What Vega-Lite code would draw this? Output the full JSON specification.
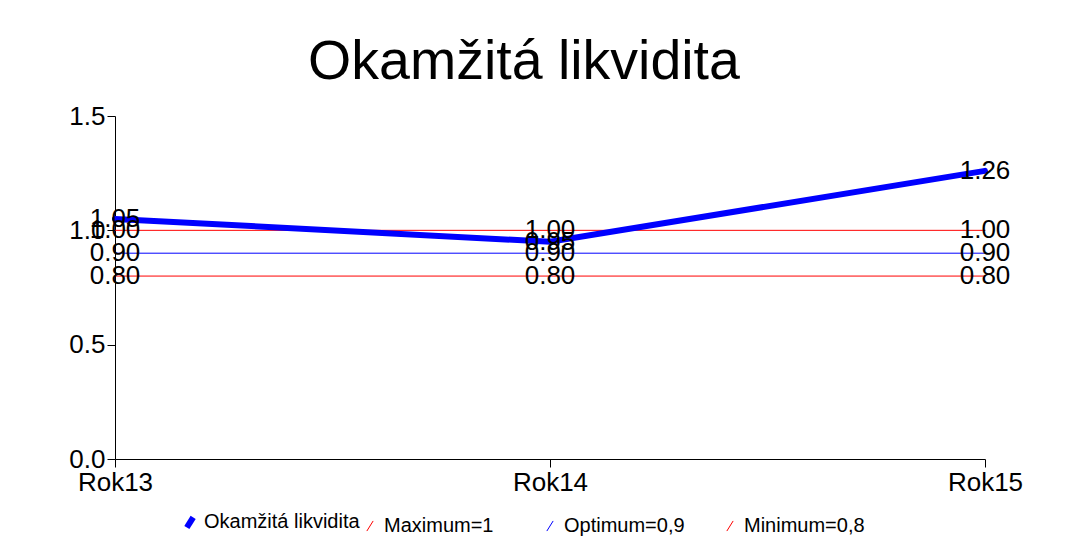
{
  "$schema": "https://vega.github.io/schema/vega-lite/v6.json",
  "width": 870,
  "height": 343,
  "autosize": {"type": "none"},
  "padding": {"left": 115, "top": 116, "right": 100, "bottom": 85},
  "background": "white",
  "config": {
    "font": "Liberation Sans",
    "view": {"stroke": null},
    "axis": {"grid": false, "domainColor": "black", "tickColor": "black", "labelColor": "black", "labelFontSize": 26, "labelFont": "Liberation Sans", "tickSize": 8, "domainWidth": 1, "tickWidth": 1}
  },
  "title": {
    "text": "Okamžitá likvidita",
    "fontSize": 55.5,
    "fontWeight": "normal",
    "font": "Liberation Sans",
    "color": "black",
    "anchor": "middle",
    "frame": "group",
    "baseline": "alphabetic",
    "offset": -31,
    "dx": -26
  },
  "data": {
    "values": [
      {"year": "Rok13", "series": "Okamžitá likvidita", "value": 1.05},
      {"year": "Rok14", "series": "Okamžitá likvidita", "value": 0.95},
      {"year": "Rok15", "series": "Okamžitá likvidita", "value": 1.26},
      {"year": "Rok13", "series": "Maximum=1", "value": 1.0},
      {"year": "Rok14", "series": "Maximum=1", "value": 1.0},
      {"year": "Rok15", "series": "Maximum=1", "value": 1.0},
      {"year": "Rok13", "series": "Optimum=0,9", "value": 0.9},
      {"year": "Rok14", "series": "Optimum=0,9", "value": 0.9},
      {"year": "Rok15", "series": "Optimum=0,9", "value": 0.9},
      {"year": "Rok13", "series": "Minimum=0,8", "value": 0.8},
      {"year": "Rok14", "series": "Minimum=0,8", "value": 0.8},
      {"year": "Rok15", "series": "Minimum=0,8", "value": 0.8}
    ]
  },
  "encoding": {
    "x": {"field": "year", "type": "nominal", "scale": {"type": "point", "padding": 0}, "axis": {"title": null, "labelAngle": 0, "labelPadding": 2}},
    "y": {"field": "value", "type": "quantitative", "scale": {"domain": [0, 1.5], "nice": false}, "axis": {"title": null, "values": [0, 0.5, 1, 1.5], "format": ".1f", "labelPadding": 2}}
  },
  "layer": [
    {
      "transform": [{"filter": "datum.series !== 'Okamžitá likvidita'"}],
      "mark": {"type": "line", "strokeCap": "round"},
      "encoding": {
        "color": {"field": "series", "type": "nominal", "scale": {"domain": ["Okamžitá likvidita", "Maximum=1", "Optimum=0,9", "Minimum=0,8"], "range": ["#0000ff", "#ff0000", "#0000ff", "#ff0000"]}},
        "strokeWidth": {"field": "series", "type": "nominal", "scale": {"type": "ordinal", "domain": ["Okamžitá likvidita", "Maximum=1", "Optimum=0,9", "Minimum=0,8"], "range": [6, 1, 1, 1]}}
      }
    },
    {
      "transform": [{"filter": "datum.series === 'Okamžitá likvidita'"}],
      "mark": {"type": "line", "strokeCap": "round"},
      "encoding": {
        "color": {"field": "series", "type": "nominal", "scale": {"domain": ["Okamžitá likvidita", "Maximum=1", "Optimum=0,9", "Minimum=0,8"], "range": ["#0000ff", "#ff0000", "#0000ff", "#ff0000"]},
          "legend": {"title": null, "orient": "none", "legendX": 65, "legendY": 396, "direction": "horizontal", "columns": 4, "gridAlign": "all", "columnPadding": -4, "labelFontSize": 20, "labelColor": "black", "labelFont": "Liberation Sans", "symbolType": "M-0.5,0.8L0.5,-0.8", "symbolSize": 160, "symbolFillColor": "transparent", "labelOffset": 4}},
        "strokeWidth": {"field": "series", "type": "nominal", "scale": {"type": "ordinal", "domain": ["Okamžitá likvidita", "Maximum=1", "Optimum=0,9", "Minimum=0,8"], "range": [6, 1, 1, 1]},
          "legend": {"title": null, "orient": "none", "legendX": 65, "legendY": 396, "direction": "horizontal", "columns": 4, "gridAlign": "all", "columnPadding": -4, "labelFontSize": 20, "labelColor": "black", "labelFont": "Liberation Sans", "symbolType": "M-0.5,0.8L0.5,-0.8", "symbolSize": 160, "symbolFillColor": "transparent", "labelOffset": 4}}
      }
    },
    {
      "mark": {"type": "text", "fontSize": 26, "font": "Liberation Sans", "color": "black", "align": "center", "baseline": "middle"},
      "encoding": {
        "text": {"field": "value", "type": "quantitative", "format": ".2f"}
      }
    }
  ]
}
